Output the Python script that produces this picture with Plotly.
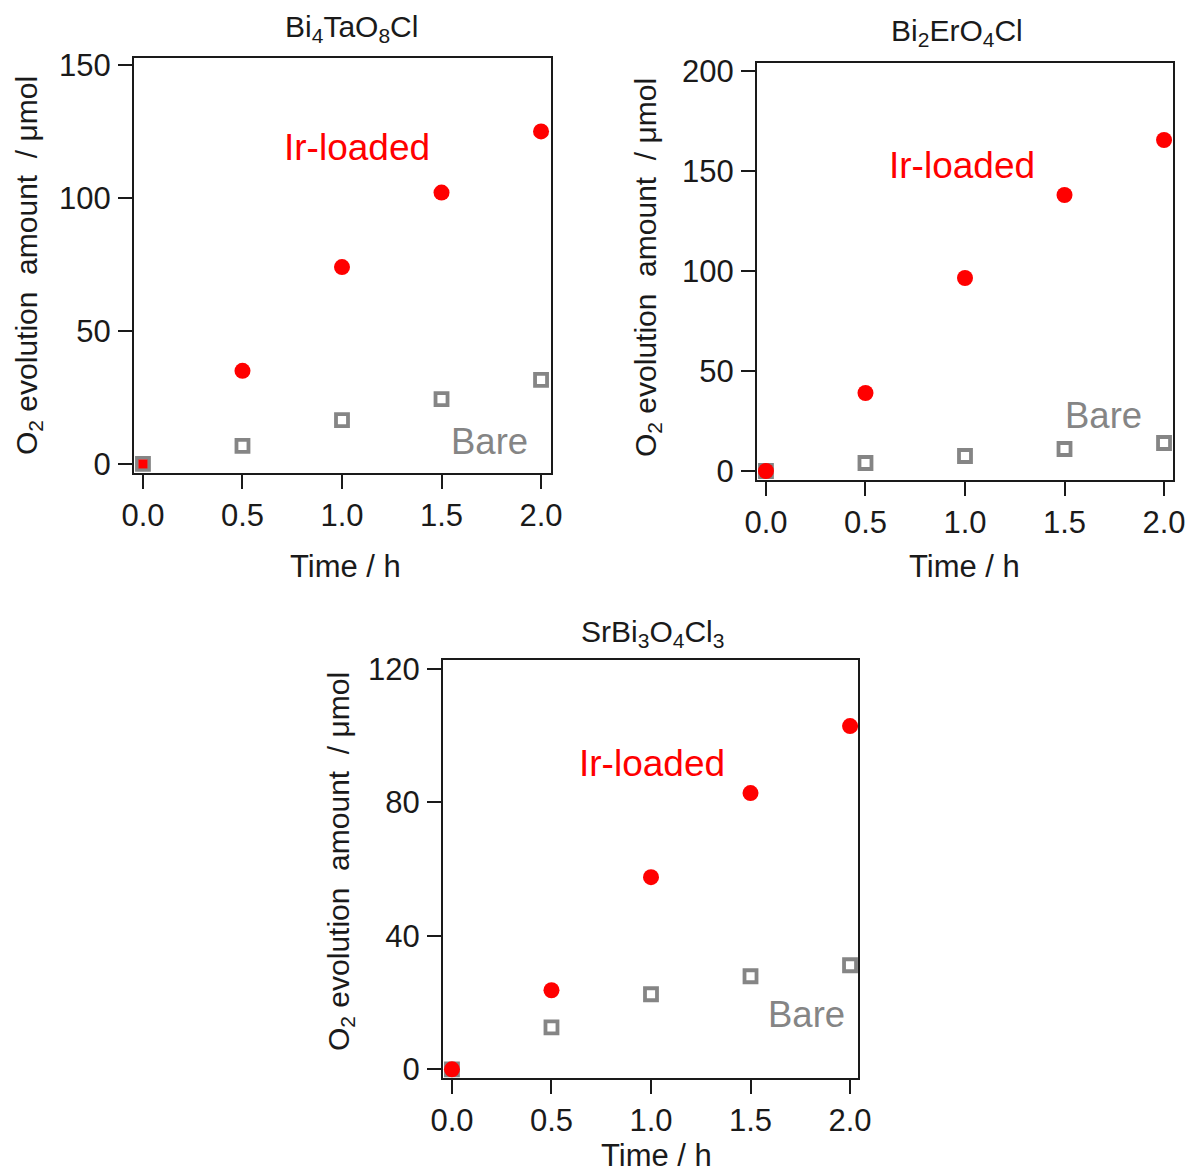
import plotly.graph_objects as go

# ---------------- data ----------------
time_h = [0.0, 0.5, 1.0, 1.5, 2.0]

titles = ["Bi<sub>4</sub>TaO<sub>8</sub>Cl",
          "Bi<sub>2</sub>ErO<sub>4</sub>Cl",
          "SrBi<sub>3</sub>O<sub>4</sub>Cl<sub>3</sub>"]

ir_bi4tao8cl = [0, 35, 74, 102, 125]
bare_bi4tao8cl = [0, 6.8, 16.5, 24.4, 31.6]

ir_bi2ero4cl = [0, 39, 96.5, 138, 165.5]
bare_bi2ero4cl = [0, 4, 7.5, 11, 14]

ir_srbi3o4cl3 = [0, 23.7, 57.6, 82.8, 102.9]
bare_srbi3o4cl3 = [0, 12.6, 22.5, 27.9, 31.2]

ytick_vals = [[0, 50, 100, 150], [0, 50, 100, 150, 200], [0, 40, 80, 120]]
xtick_vals = [0.0, 0.5, 1.0, 1.5, 2.0]
xtick_text = ["0.0", "0.5", "1.0", "1.5", "2.0"]

# ---------------- layout constants ----------------
W, H = 1193, 1174
FONT = "Arial, Liberation Sans, sans-serif"
RED = "#ff0000"
GRAY = "#858585"
INK = "#1a1a1a"
TICK_FS = 31
AXT_FS = 31

# frame boxes in pixels: (left, right, top, bottom)
frames = [(134, 551, 58, 473), (757, 1173, 63, 480), (443, 858, 660, 1078)]
yranges = [[-3.4, 152.6], [-4.5, 204], [-2.6, 122.7]]
xranges = [[-0.045, 2.05], [-0.045, 2.045], [-0.045, 2.04]]

fig = go.Figure()

series = [(ir_bi4tao8cl, bare_bi4tao8cl),
          (ir_bi2ero4cl, bare_bi2ero4cl),
          (ir_srbi3o4cl3, bare_srbi3o4cl3)]

for i, (ir, bare) in enumerate(series):
    sfx = "" if i == 0 else str(i + 1)
    fig.add_trace(go.Scatter(
        x=time_h, y=bare, mode="markers", name="Bare",
        xaxis="x" + sfx, yaxis="y" + sfx, showlegend=False,
        marker=dict(symbol="square-open", size=12, color=GRAY, opacity=1,
                    line=dict(width=3.8, color=GRAY))))
    symbols = ["square" if i == 0 else "circle"] + ["circle"] * (len(ir) - 1)
    sizes = [9 if i == 0 else 16] + [16] * (len(ir) - 1)
    fig.add_trace(go.Scatter(
        x=time_h, y=ir, mode="markers", name="Ir-loaded",
        xaxis="x" + sfx, yaxis="y" + sfx, showlegend=False,
        marker=dict(symbol=symbols, size=sizes, color=RED, opacity=1,
                    line=dict(width=0))))

layout = dict(
    width=W, height=H, autosize=False,
    margin=dict(l=0, r=0, t=0, b=0, pad=0, autoexpand=False),
    paper_bgcolor="white", plot_bgcolor="white",
    font=dict(family=FONT, color=INK),
    annotations=[],
)

def px_x(x):
    return x / W

def px_y(y):
    return 1 - y / H

for i, (l, r, t, b) in enumerate(frames):
    sfx = "" if i == 0 else str(i + 1)
    layout["xaxis" + sfx] = dict(
        domain=[px_x(l), px_x(r)], range=xranges[i], anchor="y" + sfx,
        showgrid=False, zeroline=False, showline=True, mirror=True,
        linecolor=INK, linewidth=2, automargin=False,
        ticks="outside", ticklen=14, tickwidth=2, tickcolor=INK,
        tickvals=xtick_vals, ticktext=xtick_text,
        tickfont=dict(size=TICK_FS, family=FONT, color=INK),
        ticklabelstandoff=0, fixedrange=True)
    layout["yaxis" + sfx] = dict(
        domain=[px_y(b), px_y(t)], range=yranges[i], anchor="x" + sfx,
        showgrid=False, zeroline=False, showline=True, mirror=True,
        linecolor=INK, linewidth=2, automargin=False,
        ticks="outside", ticklen=14, tickwidth=2, tickcolor=INK,
        tickvals=ytick_vals[i], ticklabelstandoff=1,
        tickfont=dict(size=TICK_FS, family=FONT, color=INK), fixedrange=True)

# text positions (pixel centres)
title_pos = [(351, 28), (957, 33), (652, 633)]
xtitle_pos = [(345, 566), (964, 566), (657, 1155)]
ytitle_pos = [(28, 266), (648, 268), (340, 862)]
ir_pos = [(357, 148), (962, 165), (652, 763)]
bare_pos = [(489, 441), (1103, 415), (806, 1014)]

ann = layout["annotations"]
for i in range(3):
    ann.append(dict(text=titles[i], x=px_x(title_pos[i][0]), y=px_y(title_pos[i][1]),
                    xref="paper", yref="paper", showarrow=False,
                    xanchor="center", yanchor="middle",
                    font=dict(size=30, family=FONT, color=INK)))
    ann.append(dict(text="Time / h", x=px_x(xtitle_pos[i][0]), y=px_y(xtitle_pos[i][1]),
                    xref="paper", yref="paper", showarrow=False,
                    xanchor="center", yanchor="middle",
                    font=dict(size=AXT_FS, family=FONT, color=INK)))
    ann.append(dict(text="O<sub>2</sub> evolution  amount  / μmol",
                    x=px_x(ytitle_pos[i][0]), y=px_y(ytitle_pos[i][1]),
                    xref="paper", yref="paper", showarrow=False, textangle=-90,
                    xanchor="center", yanchor="middle",
                    font=dict(size=30, family=FONT, color=INK)))
    ann.append(dict(text="Ir-loaded", x=px_x(ir_pos[i][0]), y=px_y(ir_pos[i][1]),
                    xref="paper", yref="paper", showarrow=False,
                    xanchor="center", yanchor="middle",
                    font=dict(size=37, family=FONT, color=RED)))
    ann.append(dict(text="Bare", x=px_x(bare_pos[i][0]), y=px_y(bare_pos[i][1]),
                    xref="paper", yref="paper", showarrow=False,
                    xanchor="center", yanchor="middle",
                    font=dict(size=36.5, family=FONT, color=GRAY)))

fig.update_layout(**layout)
fig.write_html("out.html",
               config=dict(displayModeBar=False, responsive=False),
               post_script="document.body.style.margin='0';document.body.style.overflow='hidden';")
